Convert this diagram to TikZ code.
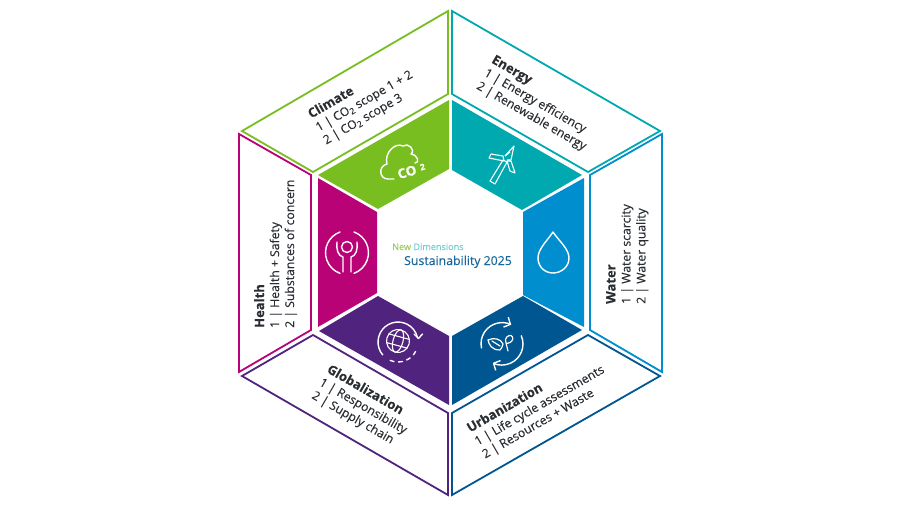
\documentclass[tikz,border=0pt]{standalone}
\usepackage{fontspec}
\setmainfont[FakeBold=0.2]{Open Sans}
\usetikzlibrary{arrows.meta}
\definecolor{cgreen}{HTML}{78BE20}
\definecolor{cteal}{HTML}{00A8B0}
\definecolor{cblue}{HTML}{008ECF}
\definecolor{cdblue}{HTML}{005691}
\definecolor{cpurple}{HTML}{50237F}
\definecolor{cmagenta}{HTML}{B90276}
\definecolor{ctext}{HTML}{2A2E32}
\tikzset{
  frame/.style={line width=1.8pt,line join=miter,fill=white},
  icon/.style={draw=white,line width=1.4pt,line cap=round,line join=round},
  thinicon/.style={draw=white,line width=1.1pt,line join=round},
  label/.style={text=ctext,font=\fontsize{12.2}{15}\selectfont,align=left,inner sep=0pt,text depth=0pt},
}
\newcommand{\block}[2]{{\fontsize{13}{15}\selectfont\bfseries #1}\\#2}
\begin{document}
\begin{tikzpicture}[x=1pt,y=-1pt]
\useasboundingbox[fill=white] (0,0) rectangle (900,506);
% outer frames
\draw[frame,draw=cgreen] (448,11) -- (448,94) -- (313,172) -- (242,131) -- cycle;
\draw[frame,draw=cteal] (452,11) -- (660,131) -- (588,172) -- (452,94) -- cycle;
\draw[frame,draw=cblue] (662,134) -- (662,372) -- (590,330) -- (590,175) -- cycle;
\draw[frame,draw=cdblue] (588,335) -- (660,376) -- (452,495) -- (452,413) -- cycle;
\draw[frame,draw=cpurple] (313,335) -- (448,413) -- (448,495) -- (242,376) -- cycle;
\draw[frame,draw=cmagenta] (239,134) -- (311,175) -- (311,330) -- (239,372) -- cycle;
% inner segments
\fill[cgreen] (449,100) -- (449,169) -- (378,209) -- (318,175) -- cycle;
\fill[cteal] (452,100) -- (582,175) -- (522,210) -- (452,170) -- cycle;
\fill[cblue] (584,178) -- (584,327) -- (523,295) -- (523,212) -- cycle;
\fill[cdblue] (582,330) -- (523,296) -- (452,336) -- (452,405) -- cycle;
\fill[cpurple] (319,331) -- (378,296) -- (449,336) -- (449,405) -- cycle;
\fill[cmagenta] (318,178) -- (377,212) -- (377,293) -- (318,327) -- cycle;
% labels
\node[label,anchor=north west,rotate=30] (climate) at (306,110)
  {\block{Climate}{1 | CO\textsubscript{2} scope 1 + 2\\2 | CO\textsubscript{2} scope 3}};
\node[label,anchor=north west,rotate=-30] (energy) at (495.5,54)
  {\block{Energy}{1 | Energy efficiency\\2 | Renewable energy}};
\node[label,anchor=north west,rotate=90] (water) at (606,304)
  {\block{Water}{1 | Water scarcity\\2 | Water quality}};
\node[label,anchor=north west,rotate=30] (urban) at (465,424)
  {\block{Urbanization}{1 | Life cycle assessments\\2 | Resources + Waste}};
\node[label,anchor=north west,rotate=-30] (global) at (331,363)
  {\block{Globalization}{1 | Responsibility\\2 | Supply chain}};
\node[label,anchor=north west,rotate=90] (health) at (254,328)
  {\block{Health}{1 | Health + Safety\\2 | Substances of concern}};
% centre
\node[anchor=base west,inner sep=0pt,font=\fontsize{9.1}{10}\selectfont] (dim) at (392,250)
  {\textcolor{cgreen!75}{New} \textcolor{cteal!55}{Dimensions}};
\node[anchor=base west,inner sep=0pt,font=\fontsize{12.3}{14}\selectfont,text=cdblue!90] (sus) at (404,265)
  {Sustainability 2025};
% CO2 cloud
\draw[icon] (394,179) -- (388,179) .. controls (379,179) and (378,166) .. (387,164)
  .. controls (384,153) and (395,142) .. (403,146) .. controls (408,142) and (416,150) .. (411,154)
  .. controls (418,155) and (420,163) .. (415,163);
\node[inner sep=0pt,text=white,rotate=16,font=\bfseries\fontsize{13.5}{14}\selectfont] (co) at (407,172) {CO};
\node[inner sep=0pt,text=white,rotate=16,font=\bfseries\fontsize{8.5}{9}\selectfont] (two) at (422.5,167) {2};
% wind turbine
\draw[thinicon] (503,160) -- (507,162) -- (495,184) -- (490,181) -- cycle;
\draw[thinicon] (503,156) -- (491,154) -- (489,158) -- (504,161) -- cycle;
\draw[thinicon] (505,156) -- (514,146) -- (511,160) -- (507,160);
\draw[thinicon] (507,161) -- (511,161) -- (515,173) -- (510,171) -- cycle;
\draw[thinicon] (505,156) -- (510,152);
% water drop
\draw[icon] (553,232) .. controls (547,241) and (538,249) .. (538,258)
  .. controls (538,267) and (545,273) .. (553,273)
  .. controls (561,273) and (569,267) .. (569,258)
  .. controls (569,249) and (559,241) .. (553,232) -- cycle;
% urbanization icon
\draw[icon,-{Straight Barb[length=5pt,width=11pt]}] (481.5,348) arc[start angle=168,end angle=296,radius=21];
\draw[icon,-{Straight Barb[length=5pt,width=11pt]}] (521.3,335.8) arc[start angle=-23,end angle=116,radius=21];
\draw[icon,line width=1.2pt] (508,351) -- (506,343) .. controls (504,338) and (508,335) .. (511,335.5)
  .. controls (514,337) and (513,341) .. (510,342.5) .. controls (508,343.5) and (507,343.5) .. (506,343);
\draw[icon,line width=1.2pt] (500,350) .. controls (491,350) and (489,344) .. (488,340)
  .. controls (494,337) and (501,339) .. (503,344) .. controls (503,346) and (501,349) .. (500,350) -- cycle;
\draw[icon,line width=1.2pt] (492,341) -- (500,346);
% globe icon
\draw[icon] (382.7,354.9) arc[start angle=140,end angle=348,radius=20];
\draw[icon] (414,334) -- (418.5,338.5) -- (422.5,334);
\draw[icon,dash pattern=on 4pt off 4.5pt] (390.2,360.4) arc[start angle=113,end angle=25,radius=20];
\begin{scope}[shift={(398,341)},rotate=-15]
\draw[icon,line width=1.1pt] (0,0) circle[radius=11.5];
\draw[icon,line width=1.1pt] (0,0) ellipse[x radius=5,y radius=11.5];
\draw[icon,line width=1.1pt] (-10.5,-4.5) -- (10.5,-4.5);
\draw[icon,line width=1.1pt] (-10.5,4.5) -- (10.5,4.5);
\end{scope}
% health icon
\draw[icon] (340,232) arc[start angle=-110,end angle=-250,radius=22];
\draw[icon] (354,232) arc[start angle=-70,end angle=70,radius=22];
\draw[icon] (347,247) circle[radius=5.5];
\draw[icon] (337,242) .. controls (336,249) and (338,256) .. (343,257) -- (343,272);
\draw[icon] (357,242) .. controls (358,249) and (356,256) .. (351,257) -- (351,272);
\end{tikzpicture}
\end{document}
